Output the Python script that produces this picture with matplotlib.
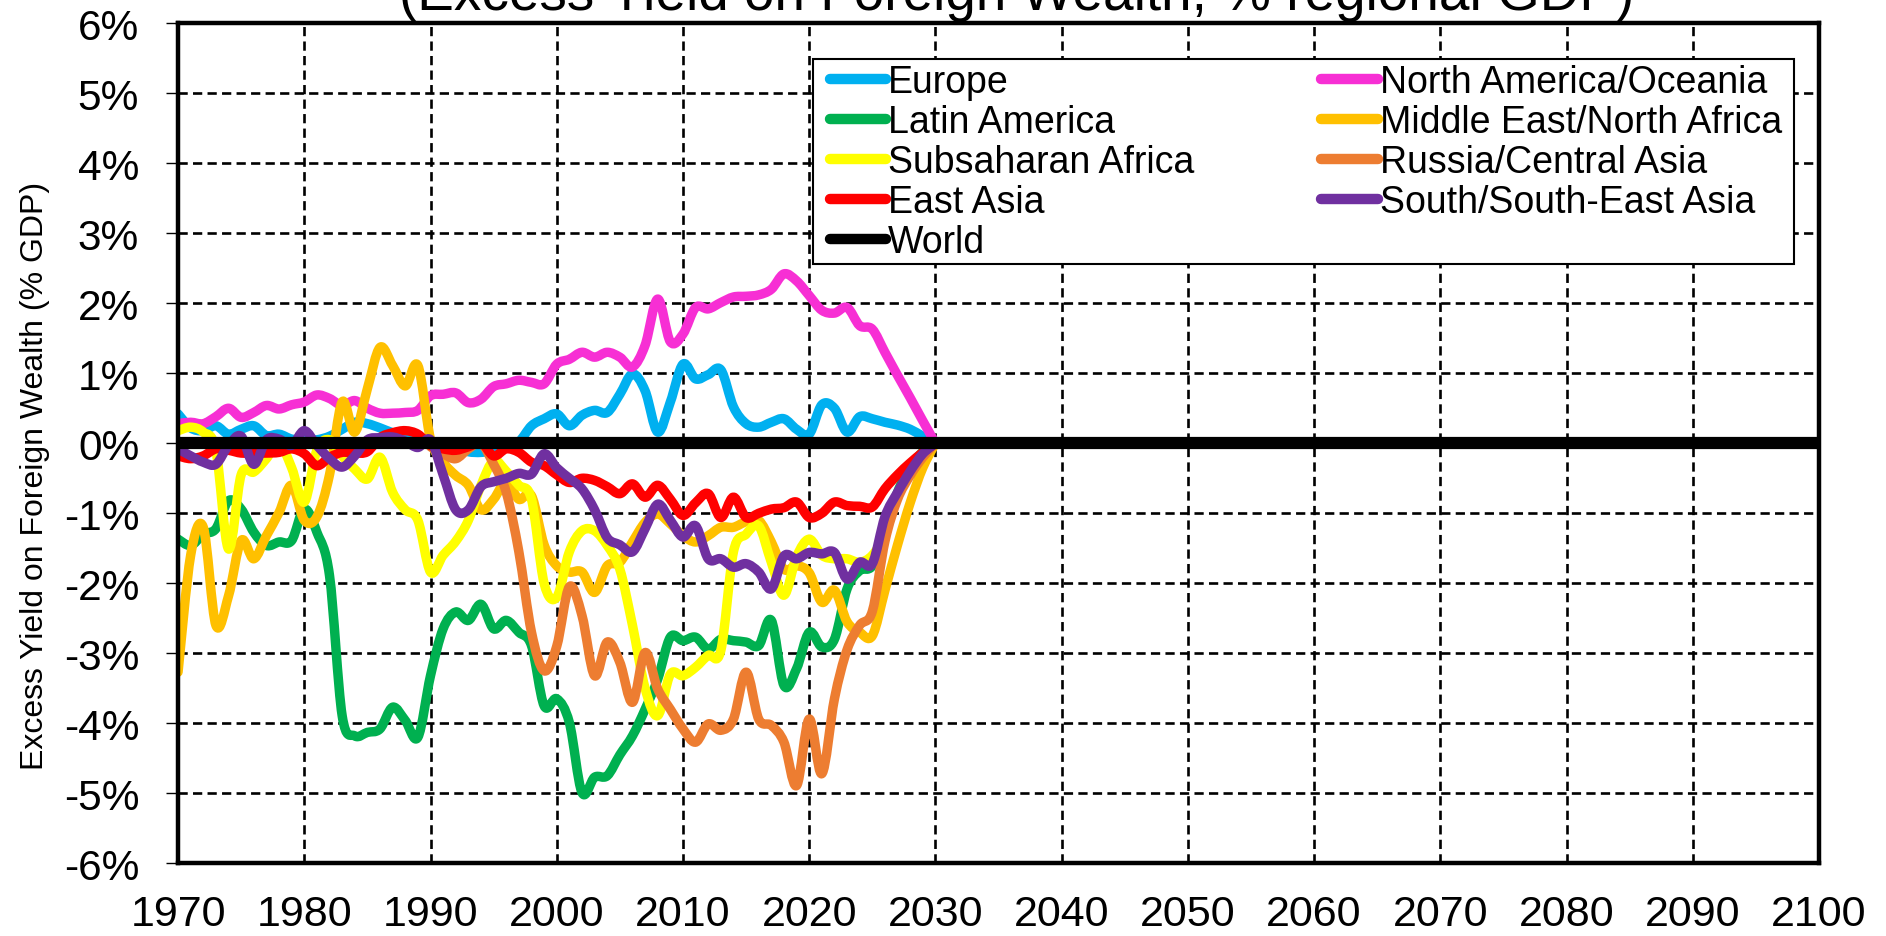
import matplotlib
matplotlib.use("Agg")
import matplotlib.pyplot as plt
from matplotlib.path import Path
from matplotlib.patches import PathPatch, Rectangle
from matplotlib.lines import Line2D

plt.rcParams["font.family"] = ["Liberation Sans", "DejaVu Sans"]

# values, % of regional GDP
years = list(range(1970, 2031))

europe = [0.42, 0.22, 0.18, 0.25, 0.13, 0.20, 0.25, 0.11, 0.13, 0.06,
          0.05, 0.05, 0.10, 0.20, 0.30, 0.28, 0.22, 0.15, 0.10, 0.05,
          0.02, 0.00, -0.05, -0.12, -0.13, -0.10, -0.05, 0.02, 0.25, 0.35,
          0.42, 0.25, 0.40, 0.47, 0.44, 0.70, 0.99, 0.75, 0.16, 0.59,
          1.13, 0.92, 0.98, 1.05, 0.52, 0.28, 0.23, 0.30, 0.35, 0.20,
          0.13, 0.55, 0.50, 0.16, 0.38, 0.35, 0.30, 0.26, 0.20, 0.10,
          0.0]

north_america = [0.28, 0.30, 0.28, 0.38, 0.50, 0.37, 0.44, 0.54, 0.49, 0.55,
                 0.59, 0.69, 0.64, 0.54, 0.61, 0.50, 0.43, 0.43, 0.44, 0.47,
                 0.68, 0.70, 0.72, 0.58, 0.63, 0.81, 0.85, 0.90, 0.87, 0.85,
                 1.13, 1.20, 1.30, 1.23, 1.30, 1.23, 1.09, 1.40, 2.06, 1.45,
                 1.56, 1.94, 1.92, 2.01, 2.09, 2.10, 2.12, 2.20, 2.42, 2.32,
                 2.11, 1.90, 1.86, 1.94, 1.68, 1.63, 1.30, 0.97, 0.65, 0.32,
                 0.0]

latin_america = [-1.37, -1.46, -1.30, -1.22, -0.82, -0.94, -1.27, -1.46, -1.41, -1.39,
                 -0.94, -1.27, -1.89, -3.89, -4.18, -4.13, -4.08, -3.77, -3.96, -4.20,
                 -3.32, -2.65, -2.41, -2.53, -2.30, -2.65, -2.53, -2.70, -2.89, -3.75,
                 -3.65, -3.99, -4.99, -4.77, -4.75, -4.45, -4.18, -3.80, -3.37, -2.77,
                 -2.82, -2.77, -2.94, -2.80, -2.82, -2.84, -2.89, -2.53, -3.46, -3.22,
                 -2.70, -2.91, -2.80, -2.08, -1.82, -1.75, -1.27, -0.70, -0.35, -0.12,
                 0.0]

mena = [-3.27, -1.60, -1.20, -2.60, -2.18, -1.39, -1.65, -1.32, -0.99, -0.60,
        -1.10, -1.05, -0.45, 0.59, 0.16, 0.78, 1.37, 1.11, 0.82, 1.11,
        0.06, -0.27, -0.46, -0.60, -0.95, -0.80, -0.55, -0.80, -0.75, -1.45,
        -1.75, -1.84, -1.84, -2.13, -1.75, -1.70, -1.41, -1.13, -1.01, -1.15,
        -1.32, -1.41, -1.32, -1.20, -1.20, -1.12, -1.10, -1.41, -1.80, -1.75,
        -1.85, -2.27, -2.10, -2.55, -2.70, -2.75, -2.10, -1.45, -0.85, -0.35,
        0.0]

subsaharan = [0.18, 0.23, 0.16, -0.10, -1.51, -0.45, -0.41, -0.22, 0.01, -0.35,
              -0.84, -0.10, 0.05, -0.18, -0.37, -0.51, -0.20, -0.70, -0.95, -1.10,
              -1.84, -1.60, -1.40, -1.10, -0.60, -0.25, -0.40, -0.60, -0.80, -2.00,
              -2.20, -1.55, -1.25, -1.25, -1.46, -1.80, -2.60, -3.50, -3.89, -3.30,
              -3.32, -3.20, -3.03, -2.96, -1.55, -1.30, -1.18, -1.70, -2.17, -1.62,
              -1.37, -1.60, -1.65, -1.65, -1.70, -1.60, -1.30, -0.75, -0.40, -0.15,
              0.0]

russia_years = list(range(1990, 2031))
russia = [-0.05, -0.15, -0.22, -0.08, 0.00, -0.30, -0.70, -1.55, -2.70, -3.25,
          -2.90, -2.05, -2.46, -3.32, -2.84, -3.13, -3.70, -2.99, -3.51, -3.80,
          -4.08, -4.27, -4.01, -4.10, -3.94, -3.27, -3.94, -4.03, -4.27, -4.89,
          -3.94, -4.72, -3.65, -2.95, -2.60, -2.40, -1.40, -0.80, -0.46, -0.20,
          0.0]

east_asia = [-0.18, -0.22, -0.18, -0.08, -0.10, -0.14, -0.14, -0.14, -0.13, -0.08,
             -0.15, -0.32, -0.20, -0.13, -0.14, -0.12, 0.08, 0.15, 0.18, 0.13,
             -0.03, -0.08, -0.10, -0.05, 0.01, -0.18, -0.08, -0.13, -0.27, -0.32,
             -0.45, -0.56, -0.50, -0.53, -0.62, -0.72, -0.58, -0.77, -0.60, -0.80,
             -1.03, -0.85, -0.72, -1.06, -0.77, -1.06, -1.00, -0.94, -0.92, -0.84,
             -1.06, -1.00, -0.84, -0.89, -0.90, -0.91, -0.65, -0.45, -0.28, -0.13,
             0.0]

south_asia = [-0.08, -0.18, -0.27, -0.30, -0.03, 0.10, -0.30, 0.05, 0.06, -0.03,
              0.18, -0.03, -0.22, -0.34, -0.18, 0.05, 0.08, 0.09, 0.03, -0.06,
              0.05, -0.45, -0.95, -0.95, -0.62, -0.55, -0.50, -0.43, -0.44, -0.15,
              -0.35, -0.50, -0.65, -0.95, -1.35, -1.45, -1.55, -1.22, -0.87, -1.10,
              -1.34, -1.18, -1.65, -1.65, -1.77, -1.72, -1.84, -2.08, -1.61, -1.65,
              -1.56, -1.58, -1.56, -1.94, -1.70, -1.72, -1.05, -0.70, -0.40, -0.15,
              0.0]

world_years = [1970, 2100]
world = [0.0, 0.0]

x_ticks = list(range(1970, 2101, 10))
y_ticks = [-6, -5, -4, -3, -2, -1, 0, 1, 2, 3, 4, 5, 6]
y_tick_labels = ["-6%", "-5%", "-4%", "-3%", "-2%", "-1%", "0%",
                 "1%", "2%", "3%", "4%", "5%", "6%"]


def smooth_path(xs, ys):
    # Excel-style smoothed line: bezier segments through the data points
    pts = list(zip(xs, ys))
    verts = [pts[0]]
    codes = [Path.MOVETO]
    for i in range(len(pts) - 1):
        p0 = pts[i - 1] if i > 0 else pts[i]
        p1 = pts[i]
        p2 = pts[i + 1]
        p3 = pts[i + 2] if i + 2 < len(pts) else pts[i + 1]
        c1 = (p1[0] + (p2[0] - p0[0]) / 6, p1[1] + (p2[1] - p0[1]) / 6)
        c2 = (p2[0] - (p3[0] - p1[0]) / 6, p2[1] - (p3[1] - p1[1]) / 6)
        verts += [c1, c2, p2]
        codes += [Path.CURVE4] * 3
    return Path(verts, codes)


fig = plt.figure(figsize=(18.86, 9.37), dpi=100)
ax = fig.add_axes([0.0944, 0.0776, 0.8701, 0.8965])

lw = 6.8
series = [
    (years, europe, "#00B0F0", "Europe"),
    (years, north_america, "#F72FD4", "North America/Oceania"),
    (years, latin_america, "#00B050", "Latin America"),
    (years, mena, "#FFC000", "Middle East/North Africa"),
    (years, subsaharan, "#FFFF00", "Subsaharan Africa"),
    (russia_years, russia, "#ED7D31", "Russia/Central Asia"),
    (years, east_asia, "#FF0000", "East Asia"),
    (years, south_asia, "#7030A0", "South/South-East Asia"),
]

proxies = {}
for xs, ys, col, name in series:
    patch = PathPatch(smooth_path(xs, ys), facecolor="none", edgecolor=col,
                      linewidth=lw, joinstyle="round", capstyle="round", zorder=3)
    ax.add_patch(patch)
    proxies[name] = Line2D([], [], color=col, linewidth=7.5, solid_capstyle="round")

ax.plot(world_years, world, color="black", linewidth=8.8, zorder=4)
proxies["World"] = Line2D([], [], color="black", linewidth=7.5, solid_capstyle="round")

ax.set_xlim(1970, 2100)
ax.set_ylim(-6, 6)
ax.set_xticks(x_ticks)
ax.set_xticklabels([str(t) for t in x_ticks])
ax.set_yticks(y_ticks)
ax.set_yticklabels(y_tick_labels)

ax.set_axisbelow(True)
ax.grid(True, color="black", linestyle=(0, (3.5, 2)), linewidth=1.9)

for s in ax.spines.values():
    s.set_linewidth(3.2)
    s.set_color("black")
    s.set_zorder(5)

ax.tick_params(axis="y", labelsize=30.5, length=9, width=1, direction="out", pad=19)
ax.tick_params(axis="x", labelsize=31, length=0, pad=22)

ax.set_ylabel("Excess Yield on Foreign Wealth (% GDP)", fontsize=23)
ax.yaxis.set_label_coords(-0.078, 0.462)

fig.text(0.539, 0.989, "(Excess Yield on Foreign Wealth, % regional GDP)",
         fontsize=39.5, ha="center", va="baseline")

# legend box drawn by hand: wider side padding than top/bottom
ax.add_patch(Rectangle((0.387, 0.714), 0.598, 0.243, transform=ax.transAxes,
                       facecolor="white", edgecolor="black", linewidth=1.5, zorder=5.5))

order = ["Europe", "Latin America", "Subsaharan Africa", "East Asia", "World",
         "North America/Oceania", "Middle East/North Africa",
         "Russia/Central Asia", "South/South-East Asia"]
leg = ax.legend([proxies[n] for n in order], order, ncol=2, loc="upper left",
                bbox_to_anchor=(0.3943, 0.957), borderaxespad=0, fontsize=27,
                handlelength=1.5, handletextpad=0.05, labelspacing=0.11,
                columnspacing=3.4, borderpad=0.12, frameon=False)
leg.set_zorder(6)

fig.savefig("out.png", dpi=100)
